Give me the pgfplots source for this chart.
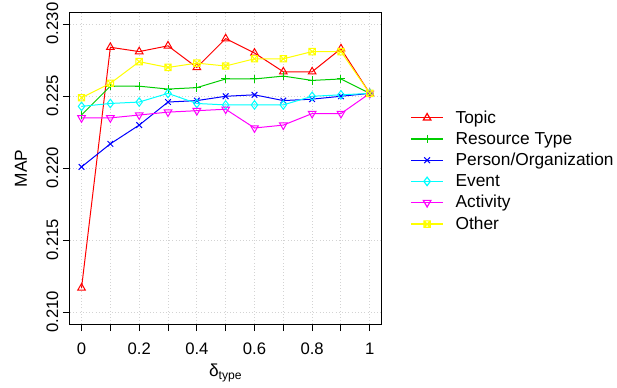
\documentclass[border=0pt]{standalone}
\usepackage{fontspec}
\setmainfont{Liberation Sans}
\usepackage{pgfplots}
\pgfplotsset{compat=1.18}
\definecolor{rred}{RGB}{255,0,0}
\definecolor{rgreen}{RGB}{0,205,0}
\definecolor{rblue}{RGB}{0,0,255}
\definecolor{rcyan}{RGB}{0,255,255}
\definecolor{rmagenta}{RGB}{255,0,255}
\definecolor{ryellow}{RGB}{255,255,0}
\definecolor{rlgray}{RGB}{211,211,211}
\pgfdeclareplotmark{boxx}{%
 \pgfpathrectangle{\pgfpoint{-\pgfplotmarksize}{-\pgfplotmarksize}}{\pgfpoint{2\pgfplotmarksize}{2\pgfplotmarksize}}%
 \pgfpathmoveto{\pgfpoint{-\pgfplotmarksize}{-\pgfplotmarksize}}\pgfpathlineto{\pgfpoint{\pgfplotmarksize}{\pgfplotmarksize}}%
 \pgfpathmoveto{\pgfpoint{-\pgfplotmarksize}{\pgfplotmarksize}}\pgfpathlineto{\pgfpoint{\pgfplotmarksize}{-\pgfplotmarksize}}%
 \pgfusepathqstroke}
\begin{document}
\begin{tikzpicture}
\begin{axis}[
  at={(0,0)}, anchor=south west,
  scale only axis, width=233.5pt, height=233.5pt,
  xmin=-0.04, xmax=1.04, ymin=0.2092, ymax=0.2308,
  font=\fontsize{13}{15}\selectfont,
  axis line style={black, line width=0.75pt},
  tick align=outside, major tick length=5.25pt,
  every tick/.style={black, line width=0.75pt},
  xtick pos=bottom, ytick pos=left,
  xtick={0,0.1,0.2,0.3,0.4,0.5,0.6,0.7,0.8,0.9,1},
  xticklabels={0,,0.2,,0.4,,0.6,,0.8,,1},
  ytick={0.21,0.215,0.22,0.225,0.23},
  yticklabels={0.210,0.215,0.220,0.225,0.230},
  yticklabel style={font=\fontsize{12.5}{14}\selectfont, rotate=90, anchor=south, xshift=0.5pt},
  xticklabel style={font=\fontsize{12.5}{14}\selectfont, yshift=-5.5pt},
  grid=major, major grid style={rlgray, dotted, line width=0.75pt},
  ylabel={MAP}, ylabel style={at={(axis description cs:-0.158,0.5)}, anchor=center},
  xlabel={δ\textsubscript{type}}, xlabel style={at={(axis description cs:0.5,-0.170)}, anchor=base},
  legend cell align=left,
  legend style={draw=none, fill=none, at={(1.08,0.4915)}, anchor=west,
    font=\fontsize{13}{15}\selectfont, row sep=1.2pt},
  legend image code/.code={\draw[line width=0.9pt, mark repeat=2,mark phase=2] plot coordinates {(0pt,0pt)(12pt,0pt)(24pt,0pt)}; \path (31pt,0pt);},
  every axis plot/.append style={line width=0.75pt, mark options={solid}},
]
\addplot[rred, mark=triangle, mark size=3.3pt] coordinates {
(0,0.2117)(0.1,0.2284)(0.2,0.2281)(0.3,0.2285)(0.4,0.2270)(0.5,0.2290)(0.6,0.2280)(0.7,0.2267)(0.8,0.2267)(0.9,0.2283)(1,0.2252)};
\addlegendentry{Topic}
\addplot[rgreen, mark=+, mark size=3.2pt] coordinates {
(0,0.2237)(0.1,0.2257)(0.2,0.2257)(0.3,0.2255)(0.4,0.2256)(0.5,0.2262)(0.6,0.2262)(0.7,0.2264)(0.8,0.2261)(0.9,0.2262)(1,0.2252)};
\addlegendentry{Resource Type}
\addplot[rblue, mark=x, mark size=3pt] coordinates {
(0,0.2201)(0.1,0.2217)(0.2,0.2230)(0.3,0.2246)(0.4,0.2247)(0.5,0.2250)(0.6,0.2251)(0.7,0.2247)(0.8,0.2248)(0.9,0.2250)(1,0.2252)};
\addlegendentry{Person/Organization}
\addplot[rcyan, mark=diamond, mark size=3.2pt] coordinates {
(0,0.2243)(0.1,0.2245)(0.2,0.2246)(0.3,0.2252)(0.4,0.2245)(0.5,0.2244)(0.6,0.2244)(0.7,0.2244)(0.8,0.2250)(0.9,0.2251)(1,0.2252)};
\addlegendentry{Event}
\addplot[rmagenta, mark=triangle, mark size=3.3pt, mark options={rotate=180}] coordinates {
(0,0.2235)(0.1,0.2235)(0.2,0.2237)(0.3,0.2239)(0.4,0.2240)(0.5,0.2241)(0.6,0.2228)(0.7,0.2230)(0.8,0.2238)(0.9,0.2238)(1,0.2252)};
\addlegendentry{Activity}
\addplot[ryellow, mark=boxx, mark size=2.4pt] coordinates {
(0,0.2249)(0.1,0.2259)(0.2,0.2274)(0.3,0.2270)(0.4,0.2273)(0.5,0.2271)(0.6,0.2276)(0.7,0.2276)(0.8,0.2281)(0.9,0.2281)(1,0.2252)};
\addlegendentry{Other}
\end{axis}
\pgfresetboundingbox
\path[use as bounding box] (-52.5pt,-47.25pt) rectangle (410.25pt,243pt);
\end{tikzpicture}
\end{document}
